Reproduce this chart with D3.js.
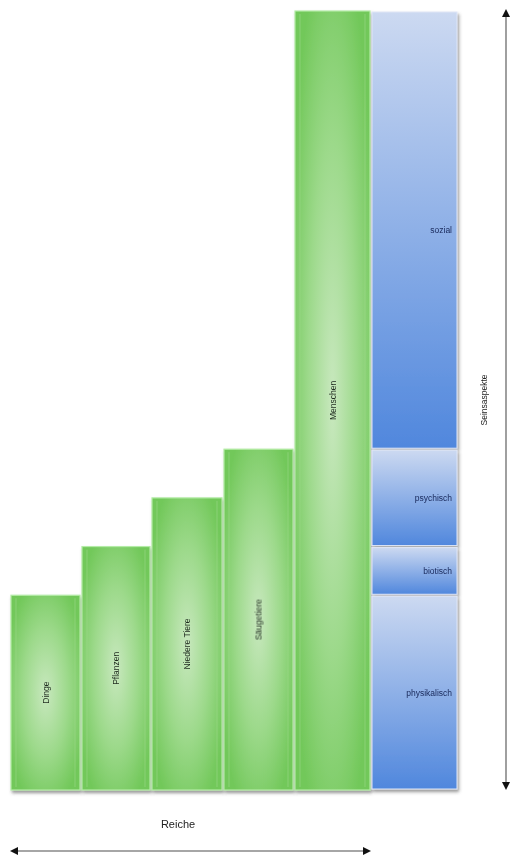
<!DOCTYPE html>
<html><head><meta charset="utf-8">
<script src="https://cdn.jsdelivr.net/npm/d3@7/dist/d3.min.js"></script>
<style>html,body{margin:0;padding:0;background:#fff;}svg{display:block;}</style>
</head><body>
<script>
// Data
const reiche = ["Dinge", "Pflanzen", "Niedere Tiere", "Säugetiere", "Menschen"];
const reichWerte = [4, 5, 6, 7, 16];
const aspekte = ["physikalisch", "biotisch", "psychisch", "sozial"];
const aspektWerte = [4, 1, 2, 9];
const xLabel = "Reiche";
const yLabel = "Seinsaspekte";

const W = 510, H = 858;
const svg = d3.select("body").append("svg").attr("width", W).attr("height", H);
const defs = svg.append("defs");

const g1 = defs.append("radialGradient").attr("id", "gGreen").attr("cx", 0.5).attr("cy", 0.5).attr("r", 0.6);
g1.append("stop").attr("offset", "0%").attr("stop-color", "#c8e8be");
g1.append("stop").attr("offset", "55%").attr("stop-color", "#9cd98a");
g1.append("stop").attr("offset", "100%").attr("stop-color", "#72c85a");

const g2 = defs.append("linearGradient").attr("id", "gBlue").attr("x1", 0).attr("y1", 0).attr("x2", 0).attr("y2", 1);
g2.append("stop").attr("offset", "0%").attr("stop-color", "#ccd9f1");
g2.append("stop").attr("offset", "100%").attr("stop-color", "#5087dd");

const f = defs.append("filter").attr("id", "shadow").attr("x", -0.1).attr("y", -0.1).attr("width", 1.3).attr("height", 1.3);
f.append("feDropShadow").attr("dx", 1.5).attr("dy", 2.5).attr("stdDeviation", 1.5).attr("flood-color", "#444").attr("flood-opacity", 0.55);

const total = d3.sum(aspektWerte);
const y = d3.scaleLinear().domain([0, total]).range([790, 11]);

const keys = reiche.concat(["__aspekte"]);
const bandX = d3.scaleOrdinal().domain(keys).range([11, 82, 152, 224, 295, 372]);
const bandW = d3.scaleOrdinal().domain(keys).range([69, 68, 70, 69, 75, 85]);

const chart = svg.append("g").attr("filter", "url(#shadow)");

// Green bars
const gb = chart.selectAll("g.reich").data(reiche.map((r, i) => ({r, v: reichWerte[i]}))).join("g").attr("class", "reich");
gb.append("rect")
  .attr("x", d => bandX(d.r)).attr("y", d => y(d.v))
  .attr("width", d => bandW(d.r)).attr("height", d => y(0) - y(d.v))
  .attr("fill", "url(#gGreen)").attr("stroke", "#b4eca6").attr("stroke-width", 1.2);
gb.append("line")
  .attr("x1", d => bandX(d.r) + 5).attr("x2", d => bandX(d.r) + 5)
  .attr("y1", d => y(d.v) + 3).attr("y2", y(0) - 3)
  .attr("stroke", "#9ed98c").attr("stroke-width", 0.8).attr("opacity", 0.7);
gb.append("line")
  .attr("x1", d => bandX(d.r) + bandW(d.r) - 5).attr("x2", d => bandX(d.r) + bandW(d.r) - 5)
  .attr("y1", d => y(d.v) + 3).attr("y2", y(0) - 3)
  .attr("stroke", "#9ed98c").attr("stroke-width", 0.8).attr("opacity", 0.7);

// Blue stacked column
let cum = 0;
const segs = aspekte.map((a, i) => { const s = {a, y0: cum, y1: cum + aspektWerte[i]}; cum += aspektWerte[i]; return s; });
const bx = bandX("__aspekte"), bw = bandW("__aspekte");
const bs = chart.selectAll("g.aspekt").data(segs).join("g").attr("class", "aspekt");
bs.append("rect")
  .attr("x", bx).attr("y", d => y(d.y1) + 1)
  .attr("width", bw).attr("height", d => y(d.y0) - y(d.y1) - 2)
  .attr("fill", "url(#gBlue)").attr("stroke", "#dfe6f6").attr("stroke-width", 1);

// Labels
const labels = svg.append("g");
labels.selectAll("text.rl").data(reiche.map((r, i) => ({r, v: reichWerte[i]}))).join("text")
  .attr("class", "rl")
  .attr("transform", d => `translate(${bandX(d.r) + bandW(d.r) / 2 + 3},${(y(d.v) + y(0)) / 2}) rotate(-90)`)
  .attr("text-anchor", "middle")
  .attr("font-family", "Liberation Sans, Arial, sans-serif").attr("font-size", 8.5)
  .attr("fill", "#1e2a1e").text(d => d.r);

labels.selectAll("text.al").data(segs).join("text")
  .attr("class", "al")
  .attr("x", bx + bw - 5).attr("y", d => (y(d.y0) + y(d.y1)) / 2 + 3)
  .attr("text-anchor", "end")
  .attr("font-family", "Liberation Sans, Arial, sans-serif").attr("font-size", 8.5)
  .attr("fill", "#18285a").text(d => d.a);

// Arrows
const m = defs.append("marker").attr("id", "arr").attr("viewBox", "0 0 10 10").attr("refX", 5).attr("refY", 5)
  .attr("markerWidth", 8).attr("markerHeight", 8).attr("orient", "auto-start-reverse").attr("markerUnits", "userSpaceOnUse");
m.append("path").attr("d", "M0,0 L10,5 L0,10 Z").attr("fill", "#111");

svg.append("line").attr("x1", 14).attr("x2", 367).attr("y1", 851).attr("y2", 851)
  .attr("stroke", "#888").attr("stroke-width", 1.6)
  .attr("marker-start", "url(#arr)").attr("marker-end", "url(#arr)");
svg.append("line").attr("x1", 506).attr("x2", 506).attr("y1", 13).attr("y2", 786)
  .attr("stroke", "#888").attr("stroke-width", 1.6)
  .attr("marker-start", "url(#arr)").attr("marker-end", "url(#arr)");

svg.append("text").attr("x", 178).attr("y", 828).attr("text-anchor", "middle")
  .attr("font-family", "Liberation Sans, Arial, sans-serif").attr("font-size", 11).attr("fill", "#222").text(xLabel);
svg.append("text").attr("transform", "translate(487,400) rotate(-90)").attr("text-anchor", "middle")
  .attr("font-family", "Liberation Sans, Arial, sans-serif").attr("font-size", 8.5).attr("fill", "#222").text(yLabel);
</script>
</body></html>
